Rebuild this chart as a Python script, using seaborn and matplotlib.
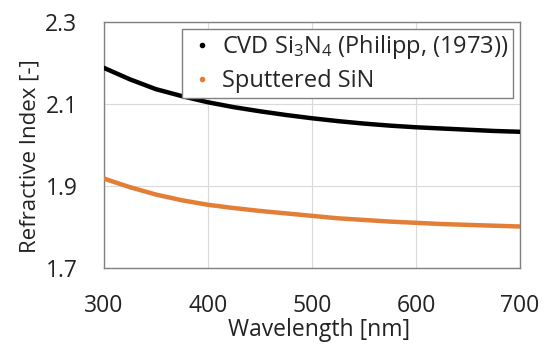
import matplotlib
matplotlib.use("Agg")
import matplotlib.pyplot as plt
from matplotlib.lines import Line2D
import seaborn as sns
import pandas as pd

wavelength = [300, 325, 350, 375, 400, 425, 450, 475, 500, 525, 550, 575, 600, 625, 650, 675, 700]
cvd_si3n4 = [2.188, 2.160, 2.136, 2.119, 2.104, 2.092, 2.082, 2.073, 2.065, 2.058, 2.052, 2.047, 2.043, 2.040, 2.037, 2.034, 2.032]
sputtered_sin = [1.918, 1.897, 1.879, 1.865, 1.854, 1.846, 1.839, 1.833, 1.827, 1.821, 1.817, 1.813, 1.810, 1.807, 1.805, 1.803, 1.801]
series_names = [r"CVD Si$_3$N$_4$ (Philipp, (1973))", "Sputtered SiN"]
colors = ["#000000", "#E27E36"]
x_ticks = [300, 400, 500, 600, 700]
y_ticks = [1.7, 1.9, 2.1, 2.3]

df = pd.DataFrame({
    "Wavelength": wavelength * 2,
    "n": cvd_si3n4 + sputtered_sin,
    "series": [series_names[0]] * len(wavelength) + [series_names[1]] * len(wavelength),
})

sns.set_theme(style="white")
plt.rcParams["font.family"] = ["Open Sans", "DejaVu Sans"]
plt.rcParams["mathtext.fontset"] = "custom"
plt.rcParams["mathtext.rm"] = "Open Sans"
plt.rcParams["mathtext.it"] = "Open Sans"

fig = plt.figure(figsize=(5.55, 3.53), dpi=100)
ax = fig.add_axes([0.187, 0.241, 0.750, 0.697])

sns.lineplot(data=df, x="Wavelength", y="n", hue="series", palette=colors,
             linewidth=3.2, legend=False, ax=ax, zorder=3)

ax.set_xlim(300, 700)
ax.set_ylim(1.7, 2.3)
ax.set_xticks(x_ticks)
ax.set_yticks(y_ticks)
ax.set_xticklabels([str(t) for t in x_ticks])
ax.set_yticklabels([f"{t:.1f}" for t in y_ticks])
ax.tick_params(axis="both", labelsize=16.5, length=0, colors="#222222")
ax.tick_params(axis="x", pad=19)
ax.tick_params(axis="y", pad=19)
ax.grid(True, color="#D9D9D9", linewidth=0.8)
for s in ax.spines.values():
    s.set_color("#808080")
    s.set_linewidth(1.0)

ax.set_xlabel("Wavelength [nm]", fontsize=16.5, color="#222222")
ax.set_ylabel("Refractive Index [-]", fontsize=16, color="#222222")
ax.xaxis.set_label_coords(0.518, -0.205)
ax.yaxis.set_label_coords(-0.152, 0.453)

handles = [Line2D([], [], linestyle="none", marker="o", markersize=3, color=c) for c in colors]
leg = ax.legend(handles, series_names, loc="upper right", bbox_to_anchor=(0.983, 0.972),
                fontsize=17, frameon=True, fancybox=False, framealpha=1,
                edgecolor="#808080", handlelength=1.35, handletextpad=0.15,
                borderpad=0.2, labelspacing=0.32, borderaxespad=0)
leg.get_frame().set_linewidth(1.0)

fig.savefig("out.png", dpi=100)
